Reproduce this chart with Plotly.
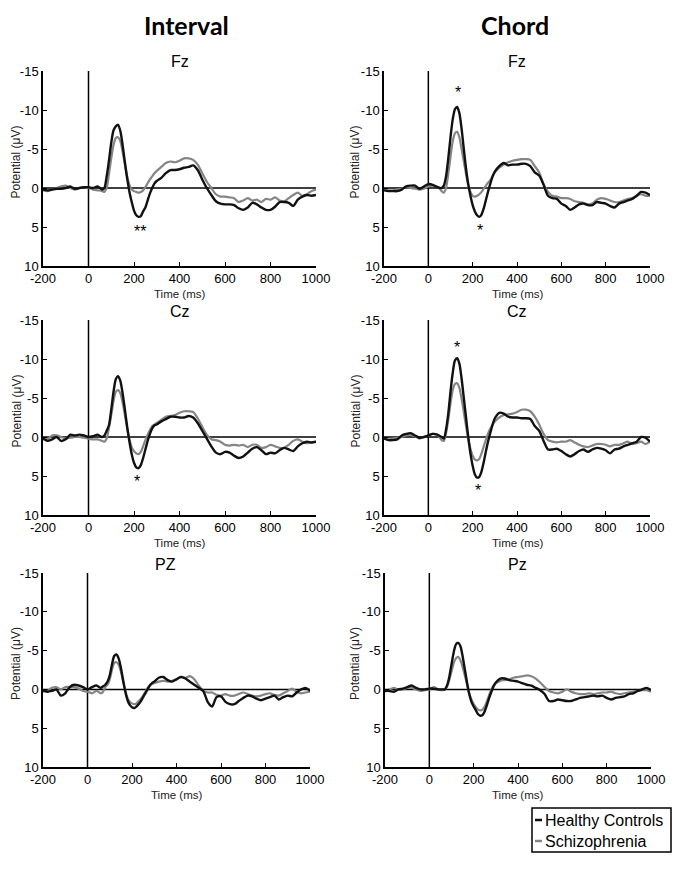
import plotly.graph_objects as go

# ---------------- data ----------------
TIME = ([-200, -180, -160, -140, -120, -100, -80, -60, -40, -20, 0, 20, 40, 60]
        + list(range(70, 301, 10))
        + list(range(320, 1001, 20)))

FZ_INTERVAL_HC = ([0.2, 0.3, 0.2, 0.1, 0.1, 0.0, -0.2, 0.1, 0.0, -0.1, -0.1, 0.0, -0.2, 0.2]
    + [0.0, -1.5, -3.5, -5.8, -7.4, -7.9, -8.1, -7.3, -5.5, -3.3, -1.2, 0.5, 1.8, 2.9, 3.5, 3.7, 3.6, 3.0, 2.5, 1.6, 0.7, 0.0, -0.6, -0.9]
    + [-1.3, -1.9, -2.3, -2.3, -2.4, -2.6, -2.7, -2.9, -2.3, -1.1,
       0.0, 0.9, 1.7, 2.0, 2.1, 2.1, 2.2, 2.6, 2.8, 2.5,
       1.9, 2.1, 2.5, 2.8, 2.8, 2.4, 1.8, 1.8, 1.9, 2.3,
       1.5, 1.1, 0.9, 1.0, 0.9])
FZ_INTERVAL_SZ = ([0.3, 0.4, 0.2, 0.0, -0.2, -0.3, 0.0, 0.2, 0.0, -0.1, 0.0, 0.2, 0.3, 0.4]
    + [0.5, 0.0, -1.8, -3.8, -5.5, -6.4, -6.5, -6.0, -4.6, -3.0, -1.5, -0.4, 0.2, 0.4, 0.5, 0.6, 0.5, 0.3, -0.1, -0.6, -1.1, -1.5, -1.9, -2.2]
    + [-2.7, -3.2, -3.4, -3.3, -3.5, -3.8, -3.8, -3.6, -3.0, -1.9,
       -0.8, 0.0, 0.8, 1.1, 1.1, 1.2, 1.3, 1.8, 1.6, 1.3,
       1.6, 1.5, 1.8, 1.4, 1.5, 1.2, 1.6, 1.7, 1.3, 0.9,
       0.6, 1.0, 0.8, 0.4, 0.2])

FZ_CHORD_HC = ([0.3, 0.4, 0.4, 0.4, 0.2, -0.2, -0.3, -0.3, 0.1, -0.2, -0.5, -0.4, -0.1, 0.0]
    + [-0.3, -1.5, -3.8, -6.5, -8.8, -10.1, -10.4, -9.6, -7.6, -5.0, -2.5, -0.5, 1.0, 2.2, 3.0, 3.5, 3.7, 3.4, 2.6, 1.5, 0.4, -0.6, -1.5, -2.1]
    + [-2.8, -3.2, -2.9, -3.0, -3.0, -3.1, -3.1, -2.8, -2.0, -1.6,
       -0.4, 1.0, 1.3, 1.4, 2.0, 2.3, 2.8, 2.5, 2.1, 2.0,
       2.2, 2.2, 1.8, 1.9, 2.0, 2.3, 2.5, 2.0, 1.8, 1.6,
       1.4, 1.0, 0.5, 0.6, 0.9])
FZ_CHORD_SZ = ([0.2, 0.3, 0.3, 0.2, 0.1, -0.1, 0.0, 0.1, 0.2, 0.1, -0.2, -0.3, -0.2, 0.4]
    + [0.6, 0.0, -1.8, -4.0, -6.0, -7.0, -7.2, -6.5, -5.0, -3.4, -1.8, -0.4, 0.5, 1.0, 1.1, 1.0, 0.8, 0.5, 0.1, -0.3, -0.7, -1.0, -1.5, -2.0]
    + [-2.6, -3.0, -3.3, -3.5, -3.6, -3.7, -3.7, -3.6, -2.8, -2.0,
       -0.5, 0.5, 1.0, 1.1, 1.3, 1.3, 1.4, 1.7, 1.8, 1.9,
       2.1, 2.0, 1.5, 1.3, 1.4, 1.6, 1.8, 1.8, 1.6, 1.4,
       1.3, 1.0, 0.8, 1.0, 1.0])

CZ_INTERVAL_HC = ([0.2, 0.5, 0.3, 0.0, 0.5, 0.3, -0.3, -0.2, -0.3, -0.2, 0.0, -0.1, -0.3, 0.0]
    + [-0.2, -0.8, -1.5, -3.5, -5.8, -7.4, -7.8, -7.2, -5.6, -3.5, -1.3, 0.6, 2.2, 3.3, 3.9, 4.0, 3.6, 2.7, 1.6, 0.5, -0.4, -1.1, -1.5, -1.6]
    + [-2.0, -2.3, -2.6, -2.6, -2.5, -2.5, -2.7, -2.5, -1.8, -0.8,
       0.2, 1.2, 2.0, 2.2, 1.9, 2.0, 2.4, 2.7, 2.5, 2.0,
       1.5, 1.3, 1.7, 2.2, 2.0, 2.1, 1.7, 1.4, 1.6, 1.8,
       1.2, 0.8, 0.6, 0.7, 0.6])
CZ_INTERVAL_SZ = ([0.2, 0.3, -0.2, -0.2, 0.0, 0.2, 0.1, 0.0, 0.0, 0.1, 0.2, 0.3, 0.3, 0.5]
    + [0.6, 0.2, -1.2, -2.8, -4.6, -5.8, -6.0, -5.6, -4.4, -2.8, -1.1, 0.3, 1.3, 1.8, 2.1, 2.2, 1.9, 1.2, 0.4, -0.3, -0.9, -1.4, -1.6, -1.8]
    + [-2.2, -2.6, -2.7, -2.8, -3.1, -3.3, -3.3, -3.2, -2.4, -1.3,
       -0.3, 0.3, 0.4, 0.6, 1.0, 1.1, 1.0, 1.1, 1.0, 1.3,
       1.0, 1.0, 1.4, 1.3, 1.0, 1.2, 1.4, 1.4, 1.0, 0.5,
       0.3, 0.6, 0.8, 0.7, 0.6])

CZ_CHORD_HC = ([0.2, 0.4, 0.4, 0.3, -0.2, -0.4, -0.5, -0.2, 0.1, 0.0, -0.2, -0.4, -0.3, 0.0]
    + [0.2, -1.0, -3.0, -5.8, -8.2, -9.8, -10.1, -9.4, -7.5, -5.0, -2.5, 0.0, 2.1, 3.7, 4.8, 5.2, 5.1, 4.4, 3.2, 1.8, 0.5, -0.6, -1.6, -2.4]
    + [-3.1, -3.0, -2.6, -2.5, -2.5, -2.4, -2.4, -2.3, -1.4, -0.8,
       0.5, 1.6, 1.6, 1.5, 1.8, 2.2, 2.5, 2.2, 1.8, 1.6,
       1.9, 1.6, 1.4, 1.5, 1.7, 2.1, 1.6, 1.5, 1.2, 1.0,
       0.8, 0.6, 0.0, 0.1, 0.6])
CZ_CHORD_SZ = ([0.2, 0.3, 0.2, 0.1, 0.0, -0.2, -0.3, -0.1, 0.2, 0.0, -0.2, -0.4, -0.3, 0.4]
    + [0.5, -0.5, -2.2, -4.3, -6.0, -6.8, -6.9, -6.3, -4.9, -3.2, -1.4, 0.2, 1.5, 2.4, 2.9, 3.0, 2.8, 2.1, 1.2, 0.3, -0.5, -1.1, -1.6, -2.0]
    + [-2.5, -2.8, -2.9, -3.0, -3.2, -3.5, -3.5, -3.3, -2.6, -1.6,
       -0.4, 0.4, 0.6, 0.7, 0.6, 0.6, 0.4, 0.7, 1.0, 1.2,
       1.3, 1.1, 0.9, 0.9, 1.0, 1.2, 1.0, 1.0, 0.8, 0.6,
       0.9, 0.8, 0.6, 0.9, 0.6])

PZ_INTERVAL_HC = ([0.1, 0.3, 0.2, 0.0, 0.8, 0.5, -0.3, -0.6, -0.5, -0.3, 0.0, -0.3, -0.5, -0.2]
    + [-0.4, -0.6, -1.0, -1.8, -3.2, -4.3, -4.5, -4.0, -2.8, -1.2, 0.3, 1.4, 2.0, 2.3, 2.4, 2.2, 1.9, 1.5, 1.0, 0.5, 0.0, -0.5, -0.8, -1.0]
    + [-1.5, -1.6, -1.2, -1.0, -1.3, -1.6, -1.4, -1.0, -0.6, -0.2,
       0.2, 1.6, 2.2, 1.0, 0.9, 1.6, 1.9, 1.9, 1.5, 1.1,
       0.8, 0.9, 1.2, 1.4, 1.2, 1.0, 0.8, 1.3, 1.0, 0.8,
       0.9, 0.4, 0.0, -0.2, 0.2])
PZ_INTERVAL_SZ = ([0.3, 0.2, -0.2, -0.3, 0.0, -0.3, -0.3, -0.3, -0.1, 0.2, 0.3, 0.5, 0.2, 0.5]
    + [0.3, -0.3, -0.6, -1.3, -2.5, -3.4, -3.5, -3.2, -2.3, -1.0, 0.2, 1.1, 1.6, 1.8, 1.9, 1.8, 1.5, 1.2, 0.8, 0.3, -0.2, -0.5, -0.7, -0.8]
    + [-1.0, -1.1, -1.0, -1.1, -1.3, -1.6, -1.5, -1.7, -1.3, -0.5,
       0.2, 0.4, 0.4, 0.7, 0.8, 0.6, 0.8, 0.8, 0.6, 0.4,
       0.6, 0.8, 0.9, 0.8, 0.6, 0.5, 0.7, 0.8, 0.5, 0.2,
       -0.1, 0.3, 0.5, 0.4, 0.3])

PZ_CHORD_HC = ([0.2, 0.2, 0.3, 0.0, -0.1, -0.3, -0.5, -0.2, 0.0, 0.0, -0.1, -0.1, 0.0, 0.0]
    + [0.0, -0.5, -1.6, -3.2, -4.8, -5.8, -6.0, -5.6, -4.3, -2.6, -0.9, 0.6, 1.6, 2.2, 2.7, 3.2, 3.4, 3.3, 2.8, 2.0, 1.1, 0.3, -0.4, -0.9]
    + [-1.4, -1.4, -1.2, -1.1, -1.0, -0.8, -0.6, -0.5, -0.2, 0.1,
       0.6, 1.5, 1.5, 1.3, 1.4, 1.5, 1.5, 1.3, 1.1, 1.0,
       0.9, 0.8, 0.9, 0.8, 1.1, 1.3, 1.1, 1.0, 0.9, 0.6,
       0.5, 0.2, 0.0, -0.2, 0.1])
PZ_CHORD_SZ = ([0.2, 0.0, -0.2, 0.0, 0.0, -0.2, -0.2, 0.0, 0.2, 0.1, 0.0, -0.3, 0.0, 0.1]
    + [0.0, -0.4, -1.2, -2.3, -3.4, -4.0, -4.2, -3.8, -2.9, -1.8, -0.6, 0.5, 1.3, 1.9, 2.3, 2.6, 2.7, 2.6, 2.2, 1.5, 0.7, 0.0, -0.5, -0.8]
    + [-1.1, -1.2, -1.3, -1.5, -1.6, -1.7, -1.8, -1.7, -1.4, -0.9,
       -0.3, 0.2, 0.4, 0.5, 0.3, 0.0, 0.3, 0.5, 0.6, 0.6,
       0.5, 0.6, 0.5, 0.4, 0.4, 0.3, 0.5, 0.6, 0.5, 0.4,
       0.3, 0.2, 0.1, 0.1, 0.3])

COLUMN_TITLES = ["Interval", "Chord"]
PANEL_TITLES = ["Fz", "Fz", "Cz", "Cz", "PZ", "Pz"]
SERIES_NAMES = ["Healthy Controls", "Schizophrenia"]
X_TICKS = [-200, 0, 200, 400, 600, 800, 1000]
X_TICK_LABELS = ["-200", "0", "200", "400", "600", "800", "1000"]
Y_TICKS = [-15, -10, -5, 0, 5, 10]
Y_TICK_LABELS = ["-15", "-10", "-5", "0", "5", "10"]
PANEL_DATA = [
    (FZ_INTERVAL_HC, FZ_INTERVAL_SZ), (FZ_CHORD_HC, FZ_CHORD_SZ),
    (CZ_INTERVAL_HC, CZ_INTERVAL_SZ), (CZ_CHORD_HC, CZ_CHORD_SZ),
    (PZ_INTERVAL_HC, PZ_INTERVAL_SZ), (PZ_CHORD_HC, PZ_CHORD_SZ),
]
# significance markers: (panel index, time, potential, text)
STARS = [(0, 225, 5.6, "**"), (1, 133, -12.2, "*"), (1, 232, 5.5, "*"),
         (2, 212, 5.7, "*"), (3, 130, -11.5, "*"), (3, 226, 6.8, "*")]

for hc, sz in PANEL_DATA:
    assert len(hc) == len(TIME) and len(sz) == len(TIME)

# ---------------- layout geometry (window pixels) ----------------
WIN_W, WIN_H = 685, 875
OFF = 8  # page body margin: the figure div starts 8px in from the window corner
W, H = WIN_W - OFF, WIN_H - OFF
PX = [(43, 316), (384, 650), (43, 316), (384, 650), (43, 310), (385, 651)]
PY = [(71, 266), (71, 266), (320, 515), (320, 515), (573, 767), (573, 767)]

def fx(p):
    return (p - OFF) / W

def fy(p):
    return 1 - (p - OFF) / H

FONT = "Liberation Sans, Arial, sans-serif"
BLACK = "#111111"
GRAY = "#858585"

fig = go.Figure()
layout = dict(
    template="none",
    width=W, height=H, margin=dict(l=0, r=0, t=0, b=0, pad=0), autosize=False,
    paper_bgcolor="white", plot_bgcolor="white", showlegend=False,
    font=dict(family=FONT, color="black", size=12),
)
annotations = []
shapes = []

for i, (hc, sz) in enumerate(PANEL_DATA):
    n = "" if i == 0 else str(i + 1)
    xa, ya = "x" + n, "y" + n
    fig.add_trace(go.Scatter(x=TIME, y=sz, xaxis=xa, yaxis=ya, mode="lines",
                             name=SERIES_NAMES[1],
                             line=dict(color=GRAY, width=2.2, shape="spline", smoothing=0.7)))
    fig.add_trace(go.Scatter(x=TIME, y=hc, xaxis=xa, yaxis=ya, mode="lines",
                             name=SERIES_NAMES[0],
                             line=dict(color=BLACK, width=2.4, shape="spline", smoothing=0.7)))
    x0, x1 = PX[i]
    y0, y1 = PY[i]
    layout["xaxis" + n] = dict(
        domain=[fx(x0), fx(x1)], anchor=ya, range=[-200, 1000], automargin=False,
        tickvals=X_TICKS, ticktext=X_TICK_LABELS, ticks="inside", ticklen=4, tickwidth=1,
        tickcolor="black",
        showline=True, linecolor="black", linewidth=1.5, showgrid=False,
        zeroline=False, tickfont=dict(size=13, family=FONT, color="black"),
        fixedrange=True,
    )
    layout["yaxis" + n] = dict(
        domain=[fy(y1), fy(y0)], anchor=xa, range=[10, -15], automargin=False,
        tickvals=Y_TICKS, ticktext=Y_TICK_LABELS, ticks="inside", ticklen=4, tickwidth=1,
        tickcolor="black",
        showline=True, linecolor="black", linewidth=1.5, showgrid=False,
        zeroline=False, tickfont=dict(size=13, family=FONT, color="black"),
        fixedrange=True,
    )
    # zero reference lines
    shapes.append(dict(type="line", xref=xa, yref=ya, x0=-200, x1=1000, y0=0, y1=0,
                       line=dict(color="black", width=1.5), layer="below"))
    shapes.append(dict(type="line", xref=xa, yref=ya, x0=0, x1=0, y0=-15, y1=10,
                       line=dict(color="black", width=1.5), layer="below"))
    # panel title
    cx = (x0 + x1) / 2
    tx = 165 if i == 4 else cx
    annotations.append(dict(text=PANEL_TITLES[i], x=fx(tx), y=fy(y0 - 9), xref="paper", yref="paper",
                            showarrow=False, xanchor="center", yanchor="middle",
                            font=dict(size=16, family=FONT, color="black")))
    # axis titles
    annotations.append(dict(text="Potential (\u03bcV)", x=fx(16 if i % 2 == 0 else 355),
                            y=fy((y0 + y1) / 2 - 6), xref="paper", yref="paper",
                            showarrow=False, textangle=-90, xanchor="center", yanchor="middle",
                            font=dict(size=12, family=FONT, color="#222222")))
    annotations.append(dict(text="Time (ms)", x=fx(cx), y=fy(y1 + 28), xref="paper", yref="paper",
                            showarrow=False, xanchor="center", yanchor="middle",
                            font=dict(size=11.5, family=FONT, color="#222222")))

for (pi, t, v, txt) in STARS:
    n = "" if pi == 0 else str(pi + 1)
    annotations.append(dict(text=txt, x=t, y=v, xref="x" + n, yref="y" + n, showarrow=False,
                            xanchor="center", yanchor="middle",
                            font=dict(size=16, family=FONT, color="black")))

# column titles
annotations.append(dict(text=COLUMN_TITLES[0], x=fx(186), y=fy(25), xref="paper", yref="paper",
                        showarrow=False, xanchor="center", yanchor="middle",
                        font=dict(size=25, family="Lato, sans-serif", color="black", weight=700)))
annotations.append(dict(text=COLUMN_TITLES[1], x=fx(515), y=fy(25), xref="paper", yref="paper",
                        showarrow=False, xanchor="center", yanchor="middle",
                        font=dict(size=25, family="Lato, sans-serif", color="black", weight=700)))

# legend (custom, short line keys)
shapes.append(dict(type="rect", xref="paper", yref="paper", x0=fx(532), x1=fx(671), y0=fy(852), y1=fy(808),
                   line=dict(color="black", width=1.5), fillcolor="white"))
for k, (name, col, yy) in enumerate([(SERIES_NAMES[0], BLACK, 820), (SERIES_NAMES[1], GRAY, 841)]):
    shapes.append(dict(type="line", xref="paper", yref="paper", x0=fx(535), x1=fx(542), y0=fy(yy), y1=fy(yy),
                       line=dict(color=col, width=2.5)))
    annotations.append(dict(text=name, x=fx(543), y=fy(yy), xref="paper", yref="paper", showarrow=False,
                            xanchor="left", yanchor="middle",
                            font=dict(size=16, family=FONT, color="black")))

layout["annotations"] = annotations
layout["shapes"] = shapes
fig.update_layout(**layout)
fig.write_html("out.html")
